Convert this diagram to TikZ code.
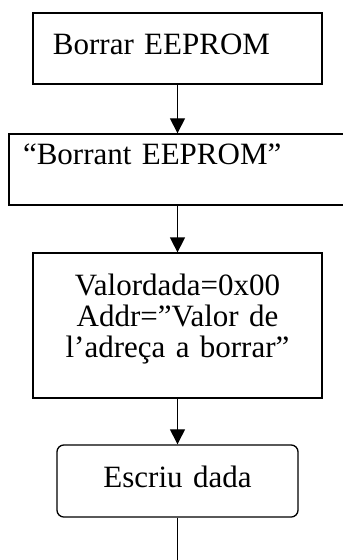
\documentclass[tikz,border=0pt]{standalone}
\usepackage{fontspec}
\setmainfont{Liberation Serif}
\usepackage{tikz}
\usetikzlibrary{arrows.meta}

\begin{document}
\begin{tikzpicture}[x=0.387pt, y=-0.387pt,
	caixa/.style={fill=white, draw=black, line width=0.5pt, shape=rectangle, inner xsep=0pt, inner ysep=0pt, text height=8.1pt, font=\fontsize{12pt}{12pt}\selectfont},
	caixaarr/.style={caixa, rounded corners=2.7pt},
	fletxa/.style={fill=none, line width=0.5pt, -{Triangle[length=5.8pt, width=5.8pt]}}]
	\useasboundingbox (0, 0) rectangle (343, 560);

	\node [caixa, minimum width=111.8pt, minimum height=27.5pt, text width=96.4pt, text depth=3.1pt, align=left] (borrar) at (177.5, 48.5) {Borrar EEPROM};
	\node [caixa, minimum width=132.7pt, minimum height=27.5pt, text width=121.9pt, text depth=12.3pt, align=left] (borrant) at (180.5, 169.5) {“Borrant EEPROM”};
	\node [caixa, minimum width=111.8pt, minimum height=56.1pt, text width=104.1pt, text depth=31.7pt, align=center] (valor) at (177.5, 325.5) {Valordada=0x00\\Addr=”Valor de\\l’adreça a borrar”};
	\node [caixaarr, minimum width=93.3pt, minimum height=27.9pt, text width=85.5pt, text depth=2.7pt, align=center] (escriu) at (177.5, 481) {Escriu dada};

	\coordinate (fi) at (177.5, 575);

	\draw [fletxa] (borrar) to (borrar |- borrant.north);
	\draw [fletxa] (borrar |- borrant.south) to (valor);
	\draw [fletxa] (valor) to (escriu);
	\draw [fill=none, line width=0.5pt] (escriu) to (fi);
\end{tikzpicture}
\end{document}
